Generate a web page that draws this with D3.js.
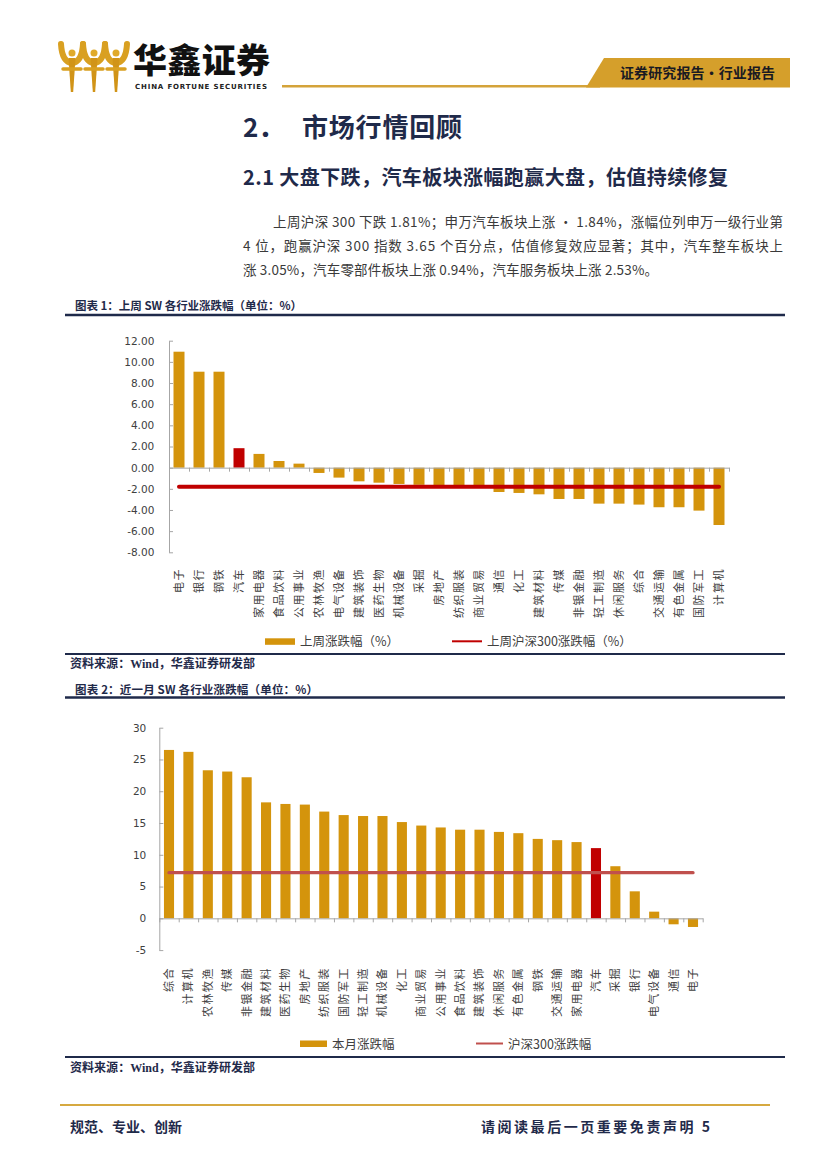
<!DOCTYPE html>
<html>
<head>
<meta charset="utf-8">
<script src="https://cdn.jsdelivr.net/npm/d3@7"></script>
<style>
body { margin: 0; background: #fff; }
text { font-family: "Noto Sans CJK SC", sans-serif; }
</style>
</head>
<body>
<div id="page"></div>
<script>
// 上周 SW 各行业涨跌幅
var weekCats = ['电子','银行','钢铁','汽车','家用电器','食品饮料','公用事业','农林牧渔','电气设备','建筑装饰',
                '医药生物','机械设备','采掘','房地产','纺织服装','商业贸易','通信','化工','建筑材料','传媒',
                '非银金融','轻工制造','休闲服务','综合','交通运输','有色金属','国防军工','计算机'];
var weekVals = [10.96, 9.07, 9.07, 1.84, 1.30, 0.63, 0.38, -0.50, -0.94, -1.29,
                -1.42, -1.54, -1.62, -1.70, -1.75, -1.85, -2.30, -2.39, -2.52, -2.96,
                -2.96, -3.40, -3.40, -3.49, -3.74, -3.74, -4.06, -5.42];
var weekHs300 = -1.81;
var weekTicks = [12, 10, 8, 6, 4, 2, 0, -2, -4, -6, -8];

// 近一月 SW 各行业涨跌幅
var monthCats = ['综合','计算机','农林牧渔','传媒','非银金融','建筑材料','医药生物','房地产','纺织服装','国防军工',
                 '轻工制造','机械设备','化工','商业贸易','公用事业','食品饮料','建筑装饰','休闲服务','有色金属','钢铁',
                 '交通运输','家用电器','汽车','采掘','银行','电气设备','通信','电子'];
var monthVals = [26.5, 26.2, 23.3, 23.1, 22.2, 18.25, 18.0, 17.9, 16.8, 16.25,
                 16.1, 16.1, 15.15, 14.6, 14.3, 13.95, 13.95, 13.6, 13.4, 12.5,
                 12.3, 12.0, 11.05, 8.2, 4.25, 1.05, -0.94, -1.36];
var monthHs300 = 7.18;
var monthTicks = [30, 25, 20, 15, 10, 5, 0, -5];

var highlight = '汽车';
var navy = '#1f2a4a', gold = '#d4940c', red = '#c00000';

var svg = d3.select('#page').append('svg')
    .attr('width', 827)
    .attr('height', 1169);

// ---- header ----
var logo = svg.append('g');
[72, 94, 116].forEach(function (cx) {
    logo.append('path')
        .attr('d', 'M' + (cx - 11) + ',44 Q' + (cx - 10) + ',62 ' + cx + ',63 Q' + (cx + 10) + ',62 ' + (cx + 11) + ',44')
        .attr('fill', 'none').attr('stroke', '#d9a021').attr('stroke-width', 6).attr('stroke-linecap', 'round');
    logo.append('path')
        .attr('d', 'M' + (cx - 3.5) + ',58 L' + (cx + 3.5) + ',58 L' + (cx + 1.2) + ',92 L' + (cx - 1.2) + ',92 Z')
        .attr('fill', '#d19418');
    logo.append('line')
        .attr('x1', cx - 9).attr('x2', cx + 9).attr('y1', 69).attr('y2', 69)
        .attr('stroke', '#d9a021').attr('stroke-width', 3.5).attr('stroke-linecap', 'round');
    logo.append('circle').attr('cx', cx).attr('cy', 53).attr('r', 3.5).attr('fill', '#e0aa2a');
});
svg.append('text').attr('x', 133).attr('y', 73).attr('textLength', 137)
    .style('font-size', '34px').style('font-weight', 900).attr('fill', '#111')
    .text('华鑫证券');
svg.append('text').attr('x', 135).attr('y', 88.5).attr('textLength', 132)
    .style('font-family', '"DejaVu Sans", sans-serif').style('font-size', '7px').style('font-weight', 'bold')
    .attr('fill', '#222').text('CHINA FORTUNE SECURITIES');
svg.append('line').attr('x1', 282).attr('x2', 600).attr('y1', 86.3).attr('y2', 86.3)
    .attr('stroke', '#d4a33a').attr('stroke-width', 2.5);
svg.append('polygon').attr('points', '604,58 790,58 790,87.5 586,87.5').attr('fill', '#d59f2b');
svg.append('text').attr('x', 620).attr('y', 78).attr('textLength', 155)
    .style('font-size', '14px').style('font-weight', 'bold').attr('fill', '#1a1a22')
    .text('证券研究报告•行业报告');

// ---- headings and paragraph ----
svg.append('text').attr('x', 243).attr('y', 137)
    .style('font-size', '26px').style('font-weight', 'bold').attr('fill', navy)
    .text('2．');
svg.append('text').attr('x', 302).attr('y', 137).attr('textLength', 160)
    .style('font-size', '26px').style('font-weight', 'bold').attr('fill', navy)
    .text('市场行情回顾');
svg.append('text').attr('x', 243).attr('y', 185).attr('textLength', 485)
    .style('font-size', '20px').style('font-weight', 'bold').attr('fill', navy)
    .text('2.1 大盘下跌，汽车板块涨幅跑赢大盘，估值持续修复');

var para = [
    { x: 273, y: 227, w: 510, t: '上周沪深 300 下跌 1.81%；申万汽车板块上涨 • 1.84%，涨幅位列申万一级行业第' },
    { x: 243, y: 251, w: 540, t: '4 位，跑赢沪深 300 指数 3.65 个百分点，估值修复效应显著；其中，汽车整车板块上' },
    { x: 243, y: 275, w: 415, t: '涨 3.05%，汽车零部件板块上涨 0.94%，汽车服务板块上涨 2.53%。' }
];
para.forEach(function (p) {
    svg.append('text').attr('x', p.x).attr('y', p.y).attr('textLength', p.w).attr('lengthAdjust', 'spacing')
        .style('font-size', '13.5px').attr('fill', '#3a3a3a').text(p.t);
});

// ---- frames ----
function frame(titleY, titleText, titleW, topY, bottomY, srcY) {
    svg.append('text').attr('x', 75).attr('y', titleY).attr('textLength', titleW)
        .style('font-size', '11.5px').style('font-weight', 'bold').attr('fill', navy).text(titleText);
    svg.append('line').attr('x1', 65).attr('x2', 785).attr('y1', topY).attr('y2', topY)
        .attr('stroke', navy).attr('stroke-width', 2.5);
    svg.append('line').attr('x1', 65).attr('x2', 785).attr('y1', bottomY).attr('y2', bottomY)
        .attr('stroke', navy).attr('stroke-width', 2);
    svg.append('text').attr('x', 70).attr('y', srcY).attr('textLength', 185)
        .style('font-family', '"Liberation Serif", "Noto Sans CJK SC", serif')
        .style('font-size', '12px').style('font-weight', 'bold').attr('fill', navy)
        .text('资料来源：Wind，华鑫证券研发部');
}
frame(310, '图表 1：上周 SW 各行业涨跌幅（单位：%）', 227, 315, 654, 668);
frame(694, '图表 2：近一月 SW 各行业涨跌幅（单位：%）', 243, 697.5, 1057, 1072);

// ---- bar chart ----
function barChart(o) {
    var g = svg.append('g');
    var x = d3.scaleBand().domain(o.cats).range([o.x0, o.x1])
        .paddingInner(o.pad).paddingOuter(o.pad / 2);
    var y = d3.scaleLinear().domain(o.domain).range([o.yBottom, o.yTop]);

    var ya = g.append('g').attr('transform', 'translate(' + o.x0 + ',0)')
        .call(d3.axisLeft(y).tickValues(o.ticks).tickFormat(o.fmt)
            .tickSizeInner(-4).tickSizeOuter(0).tickPadding(o.tickPad));
    ya.selectAll('path, line').attr('stroke', '#a6a6a6');
    ya.selectAll('text').attr('fill', '#404040')
        .style('font-family', '"DejaVu Sans", sans-serif').style('font-size', '10.5px');

    g.selectAll('rect.bar').data(o.vals).enter().append('rect')
        .attr('class', 'bar')
        .attr('x', function (d, i) { return x(o.cats[i]); })
        .attr('width', x.bandwidth())
        .attr('y', function (d) { return y(Math.max(0, d)); })
        .attr('height', function (d) { return Math.abs(y(d) - y(0)); })
        .attr('fill', function (d, i) { return o.cats[i] === highlight ? red : gold; });

    var xl = d3.scaleLinear().domain([0, o.cats.length]).range([o.x0, o.x1]);
    var xa = g.append('g').attr('transform', 'translate(0,' + y(0) + ')')
        .call(d3.axisBottom(xl).tickValues(d3.range(o.cats.length + 1)).tickFormat('')
            .tickSizeInner(4).tickSizeOuter(0));
    xa.selectAll('path, line').attr('stroke', '#a6a6a6');

    var c0 = x(o.cats[0]) + x.bandwidth() / 2;
    var c1 = x(o.cats[o.cats.length - 1]) + x.bandwidth() / 2;
    g.append('line').attr('x1', c0).attr('x2', c1).attr('y1', y(o.hs)).attr('y2', y(o.hs))
        .attr('stroke', o.lineColor).attr('stroke-width', o.lineW).attr('stroke-linecap', 'round');

    g.selectAll('text.cat').data(o.cats).enter().append('text')
        .attr('class', 'cat')
        .attr('transform', function (d) {
            return 'translate(' + (x(d) + x.bandwidth() / 2) + ',' + o.labelTop + ') rotate(-90)';
        })
        .attr('dy', '0.36em')
        .attr('text-anchor', 'end')
        .style('font-size', '11px').style('letter-spacing', '1.5px')
        .attr('fill', '#404040')
        .text(function (d) { return d; });

    // legend
    var L = o.legend;
    g.append('rect').attr('x', L.rx).attr('y', L.y - 3).attr('width', L.rw).attr('height', 6.5).attr('fill', gold);
    g.append('text').attr('x', L.rx + L.rw + 5).attr('y', L.y + 5)
        .style('font-size', '12.5px').attr('fill', '#404040').text(L.barText);
    g.append('line').attr('x1', L.lx).attr('x2', L.lx + L.rw).attr('y1', L.y).attr('y2', L.y)
        .attr('stroke', o.lineColor).attr('stroke-width', 2);
    g.append('text').attr('x', L.lx + L.rw + 5).attr('y', L.y + 5)
        .style('font-size', '12.5px').attr('fill', '#404040').text(L.lineText);
}

barChart({
    cats: weekCats, vals: weekVals, hs: weekHs300, ticks: weekTicks,
    domain: [-8, 12], yTop: 340.7, yBottom: 552.3, x0: 169, x1: 729, pad: 0.45,
    fmt: function (d) { return d.toFixed(2); }, tickPad: 14.7,
    lineColor: red, lineW: 4, labelTop: 568,
    legend: { rx: 265, rw: 30, lx: 452, y: 641.3, barText: '上周涨跌幅（%）', lineText: '上周沪深300涨跌幅（%）' }
});

barChart({
    cats: monthCats, vals: monthVals, hs: monthHs300, ticks: monthTicks,
    domain: [-5, 30], yTop: 727.7, yBottom: 950.1, x0: 159.3, x1: 702.7, pad: 0.48,
    fmt: function (d) { return String(d); }, tickPad: 13,
    lineColor: '#c0504d', lineW: 3.3, labelTop: 967,
    legend: { rx: 300, rw: 27, lx: 476, y: 1043.5, barText: '本月涨跌幅', lineText: '沪深300涨跌幅' }
});

// ---- footer ----
svg.append('line').attr('x1', 60).attr('x2', 770).attr('y1', 1105).attr('y2', 1105)
    .attr('stroke', '#d6a940').attr('stroke-width', 2);
svg.append('text').attr('x', 70).attr('y', 1132)
    .style('font-size', '14px').style('font-weight', 'bold').attr('fill', navy)
    .text('规范、专业、创新');
svg.append('text').attr('x', 481).attr('y', 1132).attr('textLength', 229)
    .style('font-size', '14px').style('font-weight', 'bold').attr('fill', navy)
    .text('请阅读最后一页重要免责声明 5');
</script>
</body>
</html>
